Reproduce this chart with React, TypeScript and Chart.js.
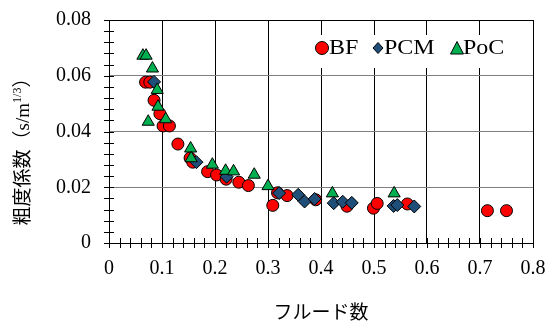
import { useEffect, useRef } from 'react';
import { Chart, registerables } from 'chart.js';

Chart.register(...registerables);

// ---- data ----
const seriesNames = ['BF', 'PCM', 'PoC'];

const bfX = [0.069, 0.077, 0.085, 0.096, 0.102, 0.114, 0.130, 0.153, 0.158, 0.186, 0.203, 0.221, 0.245, 0.263, 0.309, 0.318, 0.336, 0.390, 0.449, 0.499, 0.506, 0.563, 0.714, 0.750];
const bfY = [0.0577, 0.0577, 0.0512, 0.0464, 0.0420, 0.0420, 0.0355, 0.0305, 0.0290, 0.0256, 0.0244, 0.0229, 0.0218, 0.0206, 0.0135, 0.0180, 0.0170, 0.0155, 0.0132, 0.0125, 0.0142, 0.0140, 0.0116, 0.0116];

const pcmX = [0.085, 0.165, 0.222, 0.321, 0.357, 0.369, 0.388, 0.424, 0.441, 0.458, 0.537, 0.544, 0.576];
const pcmY = [0.0578, 0.0290, 0.0238, 0.0179, 0.0173, 0.0149, 0.0158, 0.0143, 0.0148, 0.0144, 0.0133, 0.0136, 0.0131];

const pocX = [0.064, 0.070, 0.082, 0.091, 0.0925, 0.107, 0.074, 0.154, 0.155, 0.195, 0.220, 0.235, 0.274, 0.300, 0.4215, 0.538];
const pocY = [0.0672, 0.0672, 0.0626, 0.0549, 0.0489, 0.0444, 0.0435, 0.0339, 0.0304, 0.0281, 0.0259, 0.0257, 0.0245, 0.0204, 0.0178, 0.0178];

const xTickLabels = ['0', '0.1', '0.2', '0.3', '0.4', '0.5', '0.6', '0.7', '0.8'];
const yTickLabels = ['0', '0.02', '0.04', '0.06', '0.08'];

const xTitle = 'フルード数';
const yTitleMain = '粗度係数（s/m';
const yTitleSup = '1/3';
const yTitleEnd = '）';

const SERIF = '"Liberation Serif", "Times New Roman", "Noto Sans CJK JP", serif';
const CJK = '"Noto Sans CJK JP", "Liberation Serif", sans-serif';

const RED = '#FF0000';
const BLUE = '#1F4E79';
const GREEN = '#00B050';

function toPoints(xs: number[], ys: number[]) {
  return xs.map((x, i) => ({ x, y: ys[i] }));
}

const decorPlugin = {
  id: 'decor',
  afterDatasetsDraw(chart: any) {
    const ctx: CanvasRenderingContext2D = chart.ctx;
    // legend box
    ctx.save();
    ctx.fillStyle = '#fff';
    ctx.fillRect(308, 35, 212, 33);
    ctx.strokeStyle = '#000';
    ctx.lineWidth = 1;
    // circle
    ctx.beginPath();
    ctx.arc(322, 48, 6.5, 0, Math.PI * 2);
    ctx.fillStyle = RED;
    ctx.fill();
    ctx.stroke();
    // diamond
    ctx.beginPath();
    ctx.moveTo(378, 42.5);
    ctx.lineTo(383, 48);
    ctx.lineTo(378, 53.5);
    ctx.lineTo(373, 48);
    ctx.closePath();
    ctx.fillStyle = BLUE;
    ctx.fill();
    ctx.stroke();
    // triangle
    ctx.beginPath();
    ctx.moveTo(457, 41.5);
    ctx.lineTo(463.5, 54);
    ctx.lineTo(450.5, 54);
    ctx.closePath();
    ctx.fillStyle = GREEN;
    ctx.fill();
    ctx.stroke();
    ctx.fillStyle = '#000';
    ctx.font = '20px ' + SERIF;
    ctx.textBaseline = 'alphabetic';
    ctx.textAlign = 'left';
    const items: [string, number][] = [[seriesNames[0], 329], [seriesNames[1], 384], [seriesNames[2], 463]];
    for (const [t, x] of items) {
      ctx.save();
      ctx.translate(x, 54);
      ctx.scale(1.2, 1);
      ctx.fillText(t, 0, 0);
      ctx.restore();
    }
    ctx.restore();
  },
  afterDraw(chart: any) {
    const ctx: CanvasRenderingContext2D = chart.ctx;
    const xs = chart.scales.x;
    const ys = chart.scales.y;
    const area = chart.chartArea;
    ctx.save();
    ctx.strokeStyle = '#000';
    ctx.lineWidth = 1;
    // minor/major ticks crossing the axes
    for (let i = 0; i <= 40; i++) {
      const px = Math.round(xs.getPixelForValue(i * 0.02)) + 0.5;
      ctx.beginPath();
      ctx.moveTo(px, area.bottom - 5);
      ctx.lineTo(px, area.bottom + 5);
      ctx.stroke();
    }
    for (let i = 0; i <= 20; i++) {
      const py = Math.round(ys.getPixelForValue(i * 0.004)) + 0.5;
      ctx.beginPath();
      ctx.moveTo(area.left - 5, py);
      ctx.lineTo(area.left + 5, py);
      ctx.stroke();
    }
    // x title
    ctx.fillStyle = '#000';
    ctx.font = '19px ' + CJK;
    ctx.textAlign = 'center';
    ctx.textBaseline = 'middle';
    ctx.fillText(xTitle, (area.left + area.right) / 2, 312);
    // y title
    ctx.translate(24, 147);
    ctx.rotate(-Math.PI / 2);
    ctx.textAlign = 'left';
    ctx.textBaseline = 'middle';
    const mainFont = '19px "Liberation Serif", "Noto Sans CJK JP", serif';
    const supFont = '12px "Liberation Serif", serif';
    ctx.font = mainFont;
    const w1 = ctx.measureText(yTitleMain).width;
    const w3 = ctx.measureText(yTitleEnd).width;
    ctx.font = supFont;
    const w2 = ctx.measureText(yTitleSup).width;
    let x = -(w1 + w2 + w3) / 2;
    ctx.font = mainFont;
    ctx.fillText(yTitleMain, x, 0);
    x += w1;
    ctx.font = supFont;
    ctx.fillText(yTitleSup, x, -6);
    x += w2;
    ctx.font = mainFont;
    ctx.fillText(yTitleEnd, x, 0);
    ctx.restore();
  },
};

export default function App() {
  const ref = useRef<HTMLCanvasElement | null>(null);
  useEffect(() => {
    if (!ref.current) return;
    const chart = new Chart(ref.current, {
      type: 'scatter',
      data: {
        datasets: [
          {
            label: seriesNames[0],
            data: toPoints(bfX, bfY),
            pointStyle: 'circle',
            pointRadius: 6,
            backgroundColor: RED,
            borderColor: '#000',
            borderWidth: 1,
            order: 3,
          },
          {
            label: seriesNames[1],
            data: toPoints(pcmX, pcmY),
            pointStyle: 'rectRot',
            pointRadius: 6.5,
            backgroundColor: BLUE,
            borderColor: '#000',
            borderWidth: 1,
            order: 2,
          },
          {
            label: seriesNames[2],
            data: toPoints(pocX, pocY),
            pointStyle: 'triangle',
            pointRadius: 7,
            backgroundColor: GREEN,
            borderColor: '#000',
            borderWidth: 1,
            order: 1,
          },
        ],
      },
      options: {
        responsive: false,
        animation: false,
        events: [],
        layout: { padding: { left: 0, right: 15, top: 20, bottom: 0 } },
        plugins: { legend: { display: false }, tooltip: { enabled: false } },
        scales: {
          x: {
            type: 'linear',
            min: 0,
            max: 0.8,
            ticks: {
              stepSize: 0.1,
              padding: 14,
              color: '#000',
              maxRotation: 0,
              font: { family: SERIF, size: 20 },
              callback: (_v: any, i: number) => xTickLabels[i],
            },
            grid: { color: '#000', lineWidth: 1, drawTicks: false },
            border: { display: true, color: '#000', width: 1 },
            afterFit: (s: any) => {
              s.height = 79;
              s.paddingLeft = 0;
              s.paddingRight = 0;
            },
          },
          y: {
            type: 'linear',
            min: 0,
            max: 0.08,
            ticks: {
              stepSize: 0.02,
              padding: 18,
              color: '#000',
              font: { family: SERIF, size: 20 },
              callback: (_v: any, i: number) => yTickLabels[i],
            },
            grid: {
              color: (c: any) => (c.tick && Math.abs(c.tick.value - 0.08) < 1e-9 ? '#000' : '#808080'),
              lineWidth: 1,
              drawTicks: false,
            },
            border: { display: true, color: '#000', width: 1 },
            afterFit: (s: any) => {
              s.width = 109;
              s.paddingTop = 0;
              s.paddingBottom = 0;
            },
          },
        },
      },
      plugins: [decorPlugin],
    } as any);
    return () => chart.destroy();
  }, []);
  return (
    <div style={{ position: 'absolute', left: 0, top: 0, width: 548, height: 322, background: '#fff' }}>
      <canvas ref={ref} width={548} height={322} style={{ display: 'block' }} />
    </div>
  );
}
